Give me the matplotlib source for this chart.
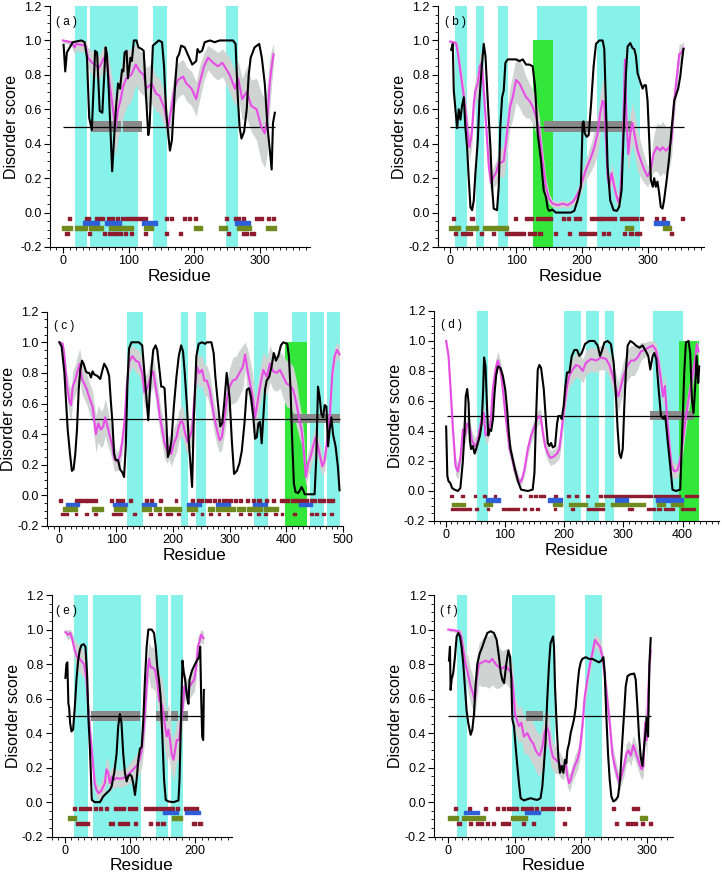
import matplotlib
matplotlib.use("Agg")
import matplotlib.pyplot as plt
import numpy as np
from matplotlib.ticker import MultipleLocator

plt.rcParams['font.family'] = ['Liberation Sans', 'DejaVu Sans']

CYAN = '#86f2ea'
GREEN = '#33e63a'
BAND = '#cfd3d2'
MORF = '#8a8a8a'
MAG = '#e84ce6'
RED = '#8e1b2e'
BLUE = '#2f5fd8'
OLIVE = '#6f8a1e'

# ---------------- panel (a) ----------------
a_cyan = [(18, 37), (41, 114), (137, 158), (249, 266)]
a_green = []
a_morf = [(42, 88), (91, 120)]
a_cut = (0, 323)
a_black = np.array([
    (1, .975), (3.5, .82), (6, .93), (15, .99), (28, 1.0), (33, .99), (36.6, .9), (40, .55), (44, .48),
    (49, .94), (52, .93), (56, .59), (60, .58), (65, .96), (67, .92), (70, .7), (75, .24), (79, .5),
    (81, .62), (84, .75), (87, .72), (90, .83), (92, .82), (94, .93), (97, .94), (99, .78), (103, .9),
    (105, .88), (108, 1.0), (112, 1.0), (115, .96), (120, .95), (123, .94), (127, .65), (130, .45),
    (132, .5), (137, .97), (146, 1.0), (151, .99), (154, .85), (157, .6), (160, .47), (163, .36),
    (166, .42), (171, .75), (174, .9), (177, .92), (180, .97), (185.5, .96), (190, .92), (197, .86),
    (203, .88), (205, .95), (208, .93), (212, .94), (216, .99), (224, 1.0), (231, .99), (239, 1.0),
    (259, 1.0), (263, .98), (266, .7), (269, .5), (272, .43), (276, .47), (280, .6), (283, .8),
    (286, .9), (292, .96), (299, .98), (303, .9), (307.5, .75), (311.6, .5), (315, .37), (318, .25),
    (320, .52), (322.8, .58)])
a_pondr = np.array([
    (0, 1.0, .01), (12.7, .99, .02), (17.8, .96, .04), (20, .98, .04), (34.6, .97, .04), (38, .9, .06),
    (44.6, .87, .07), (55, .84, .07), (62.5, .9, .07), (67, .88, .08), (71, .75, .12), (77, .58, .15),
    (80, .49, .16), (84, .6, .16), (87.5, .65, .17), (91.5, .73, .18), (96.6, .78, .17), (104, .8, .15),
    (111, .86, .12), (117, .82, .12), (123, .8, .12), (127, .72, .12), (135, .75, .12), (142, .69, .1),
    (147, .68, .1), (155, .6, .1), (160, .49, .08), (165, .6, .1), (170, .72, .1), (175, .77, .1),
    (183, .79, .1), (188, .75, .1), (196, .72, .1), (203, .66, .1), (208, .75, .1), (215, .85, .08),
    (221, .9, .07), (229, .87, .08), (236, .85, .08), (243, .87, .08), (254, .8, .1), (262, .72, .1),
    (267, .78, .1), (273, .66, .12), (280, .7, .15), (287, .62, .15), (295, .6, .18), (302, .5, .2),
    (307.5, .46, .2), (311.6, .55, .2), (315, .75, .15), (318, .85, .1), (321, .92, .06)])
a_red_top = [(8, 11), (35, 40), (50, 53), (55, 62), (68, 71), (74, 77), (81, 84), (89, 92), (95, 127),
             (157, 160), (164, 167), (184, 187), (191, 194), (201, 204), (247, 250), (261, 264),
             (266, 269), (274, 277), (293, 304), (311, 314), (319, 322)]
a_red_bot = [(4, 9), (39, 42), (62, 65), (69, 72), (75, 78), (80, 83), (86, 89), (94, 97), (103, 106),
             (125, 128), (157, 160), (178, 181), (250, 253), (273, 276), (278, 281), (286, 292)]
a_blue = [(30, 55), (64, 88), (120, 143), (262, 285)]
a_olive = [(-2, 14), (19, 36), (40, 61), (70, 107), (124, 137), (199, 212), (238, 250), (265, 286), (310, 325)]

# ---------------- panel (b) ----------------
b_cyan = [(8, 26), (39, 52), (72, 88), (132, 207), (223, 287)]
b_green = [(126, 156)]
b_morf = [(142, 275)]
b_cut = (0, 354)
b_black = np.array([
    (1.5, .946), (4, .98), (5.5, .71), (8, .6), (10.6, .49), (13, .6), (15.6, .54), (18, .62), (20.7, .67),
    (23, .5), (25.7, .38), (28, .21), (30.8, .03), (33.3, .014), (35.8, .07), (38.3, .23), (41.9, .42),
    (44.4, .65), (47.9, .85), (50.9, .98), (53.5, .91), (57, .65), (61, .38), (63.5, .15), (66, .023),
    (71, .014), (73.6, .15), (76, .5), (78.7, .67), (81.2, .71), (83.7, .87), (87.2, .89), (94.8, .89),
    (99.8, .89), (105, .88), (110, .89), (115, .86), (120, .86), (125, .85), (128.6, .73), (132.6, .46),
    (137.7, .3), (141.7, .13), (145.2, .09), (147.8, .023), (150, .01), (155, .017), (160, 0), (183, 0),
    (188, .01), (193, .07), (198, .15), (200.7, .52), (202, .53), (204, .46), (206.8, .44), (209.8, .45),
    (213.3, .62), (217.3, .85), (220.9, .98), (226, 1.0), (231, 1.0), (233.5, .95), (236, .62),
    (238.5, .27), (242.5, .07), (247.6, .014), (252.6, .01), (256, .033), (259.7, .13), (262.7, .46),
    (266.3, .81), (268.8, .965), (272.8, .985), (276.3, .955), (278.9, .95), (281.4, .91), (283.9, .81),
    (288, .76), (291.5, .72), (294, .74), (296.5, .74), (299, .65), (301.6, .42), (304, .19), (307, .15),
    (309, .2), (311.6, .15), (314, .18), (316.7, .11), (319, .033), (321.7, .023), (324, .07), (328, .19),
    (331.8, .32), (335.3, .48), (339.4, .65), (342, .68), (345.4, .72), (348.5, .79), (352, .91),
    (353.5, .95)])
b_pondr = np.array([
    (0, .994, .01), (9, .985, .02), (11.6, .93, .04), (16.6, .79, .06), (21.7, .65, .08), (25.7, .5, .08),
    (29.2, .38, .08), (32.8, .46, .08), (35.8, .635, .08), (38.3, .71, .08), (41.9, .75, .08),
    (44.9, .85, .07), (47.9, .87, .07), (50.9, .71, .08), (53.5, .56, .08), (56, .42, .08), (58.5, .27, .08),
    (62, .17, .06), (66, .21, .06), (69.6, .23, .07), (73.6, .29, .08), (77, .29, .08), (81.2, .3, .1),
    (83.7, .38, .12), (87.2, .5, .12), (90.8, .615, .12), (94.8, .67, .13), (99.8, .77, .13),
    (105, .75, .14), (110, .71, .14), (115, .67, .12), (120, .65, .1), (125, .615, .1), (130, .56, .1),
    (135, .48, .08), (140, .3, .07), (145, .15, .05), (150, .08, .03), (155, .052, .02), (163, .043, .02),
    (170.4, .052, .02), (178, .043, .02), (185.6, .062, .02), (190.6, .09, .03), (195.7, .13, .04),
    (200.7, .19, .05), (205.7, .25, .06), (213.3, .32, .08), (218.4, .38, .1), (223.4, .46, .12),
    (227.4, .58, .12), (231, .65, .12), (233.5, .635, .12), (236, .42, .1), (238.5, .21, .07),
    (241, .15, .06), (244.6, .23, .06), (247.6, .17, .06), (251, .11, .05), (254.7, .062, .04),
    (257.7, .09, .05), (261.2, .36, .1), (264.8, .89, .08), (266.8, .56, .12), (269.8, .34, .12),
    (272.8, .46, .12), (276.3, .52, .12), (279.9, .44, .12), (283.9, .36, .12), (289, .3, .1),
    (294, .25, .08), (299, .21, .06), (304, .25, .06), (308, .34, .1), (313, .38, .14), (318, .36, .15),
    (321.7, .38, .15), (326.8, .36, .14), (331.8, .38, .12), (335.3, .42, .1), (339.4, .65, .1),
    (343.4, .79, .08), (347, .92, .06), (350.5, .93, .05), (353.5, .955, .04)])
b_red_top = [(3, 7), (31, 35), (97, 100), (114, 124), (131, 139), (142, 153), (170, 173), (178, 181),
             (188, 198), (213, 218), (222, 228), (230, 236), (238, 250), (258, 268), (270, 283),
             (288, 292), (311, 314), (321, 325), (350, 354)]
b_red_bot = [(6, 9), (17, 21), (24, 27), (30, 33), (46, 49), (64, 67), (84, 88), (90, 94), (96, 100),
             (102, 106), (108, 112), (118, 130), (134, 139), (158, 161), (180, 183), (196, 204),
             (207, 220), (231, 234), (239, 242), (263, 266), (272, 276), (281, 284), (286, 289), (334, 337)]
b_blue = [(309, 332)]
b_olive = [(-1, 15), (24, 42), (50, 88), (265, 277), (323, 334)]

# ---------------- panel (c) ----------------
c_cyan = [(119, 148), (215, 227), (240, 258.5), (343, 367), (410, 436), (441.5, 466), (471, 495)]
c_green = [(398, 437)]
c_morf = [(406, 495)]
c_cut = (0, 495)
c_black = np.array([
    (0, 1.0), (4, .97), (8.8, .8), (11.7, .62), (14.6, .43), (18.7, .27), (22, .16), (25, .17), (28, .27),
    (31, .43), (34, .69), (36.8, .82), (39.8, .88), (42.7, .86), (46.8, .81), (49.7, .8), (52.6, .8),
    (55.6, .77), (58.5, .81), (61.4, .79), (67, .78), (72, .76), (76, .82), (79, .86), (83.6, .83),
    (87.7, .78), (90.6, .62), (93.6, .47), (96.5, .27), (99.4, .23), (103.5, .23), (107, .17), (111, .15),
    (114, .12), (117, .32), (120, .73), (122.8, .96), (127, 1.0), (140, 1.0), (146, .98), (149, .84),
    (153.8, .62), (156.7, .49), (159.6, .69), (162.6, .84), (165.5, .95), (169.6, .98), (172.5, .95),
    (177, .8), (179.5, .71), (182.5, .71), (185.4, .7), (188.3, .51), (191.2, .25), (194.7, .29),
    (197.7, .36), (201.8, .58), (206.4, .775), (210.5, .91), (214.6, .98), (218, .94), (221, .8),
    (225, .58), (228, .36), (231, .21), (234, .055), (236.8, .47), (241.5, .91), (245.6, .99),
    (251.5, 1.0), (257, .99), (260, 1.0), (268, 1.0), (272, .93), (275, .775), (279, .62), (283.6, .45),
    (287, .47), (290.6, .6), (295, .8), (300, .64), (304, .36), (308, .14), (312.9, .16), (317.5, .21),
    (321.6, .29), (326.3, .47), (330.4, .69), (334.5, .7), (338, .64), (342, .51), (345, .37), (348, .38),
    (350.9, .47), (353.8, .48), (356.7, .34), (359.6, .51), (362.6, .69), (365.5, .75), (370, .775),
    (374, .84), (378, .93), (381.9, .88), (386, .91), (390.6, .98), (394.7, 1.0), (401.8, .99),
    (404.7, .91), (407.6, .69), (410.5, .36), (413.5, .076), (416.4, .022), (421, .015), (424, .033),
    (427, .055), (430, .033), (432.7, .007), (450, .007), (453, .25), (456, .71), (459, .64), (462, .53),
    (465, .51), (467.8, .59), (470.8, .58), (473.7, .32), (476.6, .43), (479.5, .51), (482.5, .4),
    (487, .32), (491, .19), (494, .033)])
c_pondr = np.array([
    (0, 1.0, .01), (5.8, .99, .02), (8.8, .91, .05), (12.9, .73, .08), (17.5, .62, .1), (20.5, .59, .1),
    (23.4, .71, .1), (27.5, .75, .1), (32, .81, .1), (35.7, .86, .1), (39.8, .76, .1), (43.9, .73, .1),
    (48.5, .69, .1), (52.6, .64, .1), (58.5, .58, .1), (64.3, .4, .12), (68.4, .47, .12), (73, .43, .12),
    (77.2, .45, .12), (80.7, .51, .12), (84.8, .45, .12), (89.5, .38, .1), (93.6, .32, .1), (96.5, .24, .08),
    (102.3, .22, .06), (107, .26, .07), (111, .36, .08), (115, .49, .1), (118.7, .71, .1), (122.8, .87, .08),
    (128.6, .91, .07), (134.5, .88, .08), (140, .87, .08), (146, .8, .1), (150, .67, .1), (155, .7, .1),
    (160.8, .775, .1), (165.5, .81, .1), (169.6, .71, .1), (173.7, .62, .1), (177, .51, .1), (181.3, .43, .1),
    (185.4, .34, .1), (190, .29, .08), (193, .32, .08), (197, .27, .08), (201.8, .34, .1), (206.4, .38, .1),
    (210.5, .45, .1), (214.6, .49, .1), (218, .47, .1), (222, .4, .1), (226, .35, .08), (229.8, .38, .08),
    (234, .43, .1), (238, .64, .12), (242.7, .84, .1), (246.8, .8, .1), (251.5, .82, .1), (255.6, .75, .1),
    (260, .75, .1), (265, .69, .1), (269, .6, .1), (273, .51, .1), (277.8, .43, .1), (282.5, .36, .08),
    (286.5, .38, .08), (290.6, .49, .1), (295, .62, .12), (300, .71, .12), (305.8, .75, .15),
    (311.7, .76, .15), (317.5, .8, .15), (323.4, .84, .14), (327.5, .92, .1), (331.6, .82, .14),
    (336.3, .73, .15), (341, .64, .15), (345, .51, .12), (349, .6, .12), (353.8, .71, .12), (359.6, .82, .12),
    (365.5, .775, .12), (371.3, .86, .12), (377, .81, .12), (383, .8, .12), (389, .82, .12),
    (394.7, .775, .14), (400.6, .73, .15), (406.4, .72, .15), (412.3, .69, .15), (418, .6, .15),
    (422.8, .5, .12), (427, .43, .1), (431, .29, .1), (434.5, .12, .06), (438.6, .21, .08), (442.7, .25, .08),
    (447.4, .32, .08), (452, .38, .08), (456, .32, .08), (460, .25, .08), (463.7, .19, .06), (467.8, .23, .06),
    (472, .36, .08), (476.6, .51, .1), (481.3, .8, .08), (485.4, .91, .06), (489.5, .95, .05), (494, .92, .05)])
c_red_top = [(0, 3), (29, 34), (36, 41), (44, 48), (50, 54), (57, 60), (63, 66), (90, 93), (101, 113),
             (124, 127), (151, 155), (160, 165), (177, 180), (204, 207), (233, 237), (243, 247), (250, 253),
             (257, 260), (263, 266), (272, 276), (280, 283), (287, 290), (293, 296), (300, 304), (309, 313),
             (317, 321), (330, 334), (340, 344), (350, 354), (364, 367), (376, 379), (390, 404), (410, 428),
             (432, 438), (442, 452), (456, 468), (472, 484)]
c_red_bot = [(4, 9), (12, 15), (28, 31), (46, 49), (62, 65), (93, 101), (104, 109), (131, 134), (159, 162),
             (175, 178), (189, 197), (208, 211), (233, 236), (250, 253), (265, 268), (280, 283), (296, 299),
             (318, 321), (334, 337), (350, 353), (362, 365), (380, 383), (391, 394), (413, 416), (443, 447),
             (452, 455), (464, 467), (478, 481)]
c_blue = [(12, 35), (94, 119), (145, 170), (225, 250), (276, 301), (342, 366), (422, 445)]
c_olive = [(7, 31), (58, 77), (97, 117), (145, 161), (167, 180), (184, 214), (225, 243), (262, 273),
           (276, 310), (313, 328), (331, 357), (360, 386)]

# ---------------- panel (d) ----------------
d_cyan = [(53.4, 72), (200, 229), (237, 259.6), (269.7, 283.7), (350, 401)]
d_green = [(394.4, 428)]
d_morf = [(345, 420)]
d_cut = (3, 428)
d_black = np.array([
    (1, .43), (3, .1), (5, .065), (8, .053), (11, .02), (15, .009), (21, 0), (25, .02), (29, .19), (32, .39),
    (34, .63), (36.5, .68), (38.8, .59), (41, .34), (43, .28), (46, .3), (49, .25), (51.7, .28), (54.5, .32),
    (58, .37), (61, .45), (63.5, .68), (65, .89), (67.4, .83), (69.7, .59), (72, .37), (74, .41), (77, .4),
    (80, .48), (82.6, .65), (85.4, .77), (88.2, .83), (92.7, .82), (96.6, .77), (100.6, .68), (104, .54),
    (106.7, .39), (109.6, .28), (113.5, .21), (117.4, .14), (122, .065), (127.5, .009), (138.8, 0),
    (147, .009), (150, .12), (152.8, .5), (155.6, .81), (158.4, .84), (161.2, .82), (165.7, .68),
    (169.7, .45), (172.5, .32), (175.3, .3), (178, .32), (181, .29), (184.8, .3), (188.2, .45), (190.4, .5),
    (193.8, .5), (196, .48), (199.4, .57), (201.7, .68), (205, .79), (209, .79), (213, .9), (217.4, .94),
    (221.9, .94), (225.8, .9), (229.8, .92), (235.4, .98), (242.7, 1.0), (251, 1.0), (256.7, .97),
    (260.7, .9), (263.5, .93), (268, .99), (273.6, 1.0), (279, .98), (283.7, .855), (287.6, .63),
    (290.4, .41), (293.3, .25), (296, .22), (299, .28), (301.7, .57), (304.5, .81), (307.3, .97),
    (311.8, 1.0), (315.7, .99), (321.3, .97), (327, .955), (332.6, .97), (338.2, .93), (342.1, .9),
    (345.5, .81), (349.4, .9), (352.2, .92), (355.6, .88), (359.6, .68), (363.5, .5), (368, .48),
    (370.8, .5), (374.7, .34), (379.2, .165), (383, .009), (388.8, 0), (396, .009), (400, .45),
    (402.8, .79), (405.6, .99), (410, 1.0), (412.9, .92), (415.7, .61), (418.5, .52), (421.3, .7),
    (423.6, .9), (426.4, .72), (428, .83)])
d_pondr = np.array([
    (1, 1.0, .01), (5, .9, .03), (8.4, .68, .06), (12.4, .41, .08), (16.9, .165, .06), (20.8, .13, .05),
    (25.3, .23, .06), (29.2, .41, .06), (33, .37, .06), (36.5, .45, .06), (40.4, .43, .06), (44.4, .34, .06),
    (49, .3, .06), (53.4, .32, .06), (57.3, .41, .06), (61.2, .48, .06), (64.6, .52, .06), (67.4, .37, .06),
    (71.3, .39, .06), (75.8, .45, .06), (79.8, .68, .06), (84.3, .81, .06), (88.2, .87, .06), (92.7, .81, .06),
    (96.6, .68, .06), (100.6, .52, .06), (104, .41, .06), (107.9, .28, .06), (111.8, .23, .05),
    (116.3, .14, .05), (120.8, .1, .04), (124.7, .053, .03), (128.7, .076, .03), (133, .14, .04),
    (138.8, .28, .05), (144.4, .37, .05), (150, .43, .05), (154.5, .48, .05), (158.4, .5, .05),
    (161.2, .48, .05), (164, .39, .05), (168, .3, .05), (172.5, .25, .05), (177, .22, .05), (182.6, .23, .05),
    (188.2, .25, .05), (192, .28, .06), (196, .41, .08), (200.6, .57, .08), (205, .7, .08), (209, .77, .08),
    (214.6, .81, .08), (220.2, .84, .08), (225.8, .83, .08), (231.5, .8, .08), (237, .855, .08),
    (245.5, .88, .08), (254, .87, .08), (262.4, .89, .08), (270.8, .88, .08), (276.4, .84, .08),
    (282, .77, .1), (287.6, .68, .1), (291.6, .63, .1), (296, .7, .1), (300.6, .77, .1), (306, .83, .1),
    (313, .87, .1), (318.5, .87, .1), (324, .89, .08), (329.8, .93, .06), (335.4, .94, .05),
    (342, .955, .05), (349.4, .97, .04), (355, .94, .05), (359.6, .855, .06), (363.5, .74, .08),
    (366.9, .63, .08), (370.2, .7, .08), (373.6, .5, .08), (377.5, .32, .08), (381.5, .165, .06),
    (386, .13, .05), (391.6, .14, .05), (396, .21, .06), (400, .32, .08), (404, .45, .08), (408.4, .57, .08),
    (412.9, .68, .08), (416.8, .77, .06), (421.3, .88, .06), (424, .98, .04), (427, .93, .04)])
d_red_top = [(8, 11), (27, 30), (48, 51), (64, 67), (82, 85), (124, 127), (141, 145), (150, 153), (158, 162),
             (164, 167), (184, 187), (206, 209), (220, 223), (238, 241), (260, 264), (268, 283), (286, 290),
             (293, 302), (305, 312), (315, 322), (325, 330), (334, 340), (343, 348), (352, 358), (361, 370),
             (372, 378), (381, 385), (388, 394), (405, 426)]
d_red_bot = [(10, 14), (17, 21), (24, 28), (31, 35), (39, 42), (51, 54), (70, 73), (96, 100), (102, 106),
             (108, 113), (115, 123), (132, 135), (144, 147), (154, 157), (183, 186), (213, 216), (240, 243),
             (247, 250), (252, 260), (263, 266), (309, 312), (313, 316), (341, 344), (347, 352), (358, 362),
             (370, 374), (378, 384), (398, 403), (407, 412), (415, 420)]
d_blue = [(69, 92), (173, 196), (286, 308), (355, 401)]
d_olive = [(11, 32), (65, 79), (182, 197), (209, 223), (225, 239), (252, 268), (280, 337), (357, 371), (380, 400)]

# ---------------- panel (e) ----------------
e_cyan = [(13.8, 36.4), (42.6, 116.4), (140, 158), (163, 181)]
e_green = []
e_morf = [(41, 115), (140, 158), (163, 174), (179, 189)]
e_cut = (1.5, 213)
e_black = np.array([
    (1, .72), (2.6, .8), (4, .81), (5.6, .57), (6.7, .55), (8.2, .46), (10.3, .41), (12.8, .42), (15.4, .55),
    (18, .71), (20.5, .82), (23, .88), (25.6, .91), (29.2, .915), (31.8, .9), (34.4, .73), (36.4, .48),
    (38.5, .32), (40, .17), (41.5, .013), (46, 0), (54, 0), (59, .033), (64, .052), (69.2, .071),
    (71.8, .09), (75.9, .17), (79.5, .28), (82, .44), (84.6, .51), (87, .46), (89.7, .28), (92.3, .17),
    (94.9, .12), (97.4, .15), (100, .16), (102.6, .15), (105, .11), (107.7, .042), (110.3, .13),
    (112.8, .245), (115.4, .31), (118, .32), (120.5, .48), (123, .71), (125.6, .9), (128.2, 1.0),
    (133.3, 1.0), (136.9, .98), (139.5, .9), (142, .78), (145, .69), (147, .61), (149.7, .38), (152.3, .13),
    (154.9, .013), (159, .004), (166.7, 0), (174.4, .01), (176, .13), (178.5, .51), (180.5, .82),
    (182.6, .75), (184.6, .71), (187.2, .62), (189.7, .57), (191.3, .71), (194.9, .76), (198.5, .79),
    (202.6, .82), (206, .84), (207.7, .9), (209.2, .61), (210.8, .38), (212.3, .36), (213.3, .65)])
e_pondr = np.array([
    (1, .985, .02), (5, .97, .03), (8.7, .98, .03), (11.8, .94, .04), (15.4, .88, .06), (19, .84, .08),
    (23, .83, .08), (27.2, .81, .08), (29.7, .8, .08), (33.3, .71, .08), (35.9, .55, .08), (38.5, .42, .08),
    (41, .32, .07), (43.6, .21, .06), (46, .11, .05), (48.7, .071, .04), (51.8, .052, .04), (55.4, .062, .05),
    (59, .09, .06), (61.5, .11, .07), (64, .19, .07), (66.7, .17, .07), (69.2, .11, .06), (72.8, .15, .06),
    (75.9, .13, .06), (79.5, .14, .05), (84.6, .135, .05), (89.7, .14, .05), (94.9, .15, .05), (100, .17, .06),
    (105, .19, .06), (110.3, .21, .07), (114.4, .245, .08), (118, .3, .1), (121.5, .44, .12), (124.6, .61, .12),
    (127.2, .765, .1), (129.2, .83, .1), (131.8, .78, .12), (134.9, .78, .12), (138.5, .765, .12),
    (142, .69, .14), (145, .59, .15), (148.7, .57, .15), (151.3, .51, .15), (153.8, .44, .15), (156.4, .38, .15),
    (159, .42, .15), (161.5, .36, .14), (164, .28, .12), (166.7, .245, .12), (169.2, .3, .12), (171.8, .36, .12),
    (175.4, .36, .12), (177.9, .46, .12), (181, .55, .1), (183.6, .67, .08), (186.2, .65, .07), (188.7, .63, .07),
    (191.3, .67, .07), (194.9, .69, .07), (198.5, .71, .07), (201.5, .78, .07), (204, .9, .06), (206.7, .93, .05),
    (209.2, .97, .04), (212.8, .95, .04)])
e_red_top = [(13, 17), (22, 25), (29, 33), (35, 40), (45, 48), (53, 56), (62, 65), (76, 85), (88, 92), (98, 103),
             (106, 110), (123, 142), (146, 152), (155, 160), (162, 166), (171, 175), (183, 190), (193, 197), (200, 203)]
e_red_bot = [(18, 22), (24, 28), (31, 36), (69, 74), (83, 86), (89, 97), (107, 110), (130, 133), (140, 143),
             (148, 153), (196, 200), (205, 209)]
e_blue = [(150, 173), (185, 208)]
e_olive = [(5, 18), (164, 180)]

# ---------------- panel (f) ----------------
f_cyan = [(12.6, 27.6), (96.5, 160.3), (205.5, 232.2)]
f_green = []
f_morf = [(117, 143)]
f_cut = (0, 305)
f_black = np.array([
    (1, .82), (2.5, .9), (3.5, .65), (5, .71), (7.5, .75), (10, .84), (12.6, .96), (15, .98), (17.6, .96),
    (20, .9), (22.6, .8), (25, .67), (27.6, .53), (30, .46), (33.7, .39), (36.2, .42), (38.7, .51), (41, .67),
    (43.7, .8), (47.2, .86), (51.3, .9), (54.8, .94), (58.8, .98), (63.8, .99), (68.8, .98), (72.9, .94),
    (76.4, .84), (79, .75), (81.4, .71), (84, .69), (87.4, .8), (90.5, .88), (93, .84), (95, .71), (96.5, .48),
    (99, .44), (101.5, .32), (104, .21), (106.5, .11), (109, .023), (114, .01), (119, .017), (124, .023),
    (129, .017), (134, .013), (139, .023), (141.7, .09), (144, .21), (146.7, .36), (149, .59), (151.8, .8),
    (154, .92), (157.8, .96), (159.3, .9), (160.8, .67), (163.3, .44), (165.8, .26), (168.3, .17), (170.9, .21),
    (173.4, .17), (175.9, .245), (177.9, .225), (179.4, .3), (182, .34), (184.4, .4), (187, .44), (189.4, .48),
    (192, .55), (194.5, .67), (197, .765), (199.5, .81), (202, .83), (207, .84), (212, .83), (217, .83),
    (222, .82), (227, .81), (230.7, .82), (233.7, .84), (235.7, .75), (238, .51), (240.7, .28), (243.2, .13),
    (245.7, .033), (248.7, .004), (252.3, .013), (255.8, .033), (258.8, .13), (262.3, .36), (264.8, .51),
    (267.3, .67), (270, .73), (273.9, .74), (280, .745), (282.4, .71), (285, .55), (287.4, .38), (290, .26),
    (292.5, .21), (295, .32), (297.5, .42), (299, .49), (301, .38), (303, .8), (305, .95)])
f_pondr = np.array([
    (0, 1.0, .01), (8.5, .996, .01), (16, .99, .02), (19.6, .96, .04), (22.6, .88, .06), (26, .8, .08),
    (29.6, .745, .1), (33.7, .67, .1), (37.2, .63, .1), (40, .59, .1), (42.7, .71, .12), (46.2, .8, .12),
    (51.3, .81, .14), (56.3, .82, .15), (61.3, .81, .15), (66.3, .83, .15), (71.4, .8, .14), (76.4, .78, .12),
    (81.4, .775, .1), (86.4, .79, .1), (91.5, .765, .1), (95, .745, .1), (98, .65, .1), (100.5, .51, .1),
    (103, .48, .1), (106.5, .44, .1), (110, .46, .1), (114, .38, .1), (119, .4, .12), (124, .36, .12),
    (128, .34, .12), (131.7, .3, .12), (135, .28, .12), (138, .27, .12), (141.7, .32, .12), (145, .4, .12),
    (148, .44, .1), (151.8, .4, .1), (154, .32, .1), (157.8, .26, .08), (161.8, .245, .08), (165.3, .235, .07),
    (169.3, .21, .07), (173.4, .19, .06), (177, .225, .06), (179.4, .15, .06), (182, .11, .05), (184.4, .13, .05),
    (187, .17, .05), (190.5, .21, .06), (194.5, .245, .06), (198, .3, .06), (202, .44, .06), (205.5, .61, .06),
    (209.5, .71, .06), (213.6, .8, .05), (217, .86, .05), (221, .94, .04), (224.6, .92, .04), (228.6, .9, .05),
    (232.2, .84, .05), (235.7, .73, .06), (239.7, .59, .06), (243.7, .44, .06), (247.2, .28, .06),
    (250.8, .21, .06), (254.8, .15, .05), (257.8, .11, .05), (260.8, .15, .05), (264.8, .21, .06),
    (268.3, .28, .06), (271.4, .3, .06), (274.9, .27, .06), (278.9, .33, .06), (281.4, .3, .06), (285, .26, .06),
    (289, .21, .06), (291.5, .19, .06), (294, .21, .06), (296.5, .46, .1), (299, .36, .1), (301, .61, .1),
    (303, .78, .08), (305, .88, .06)])
f_red_top = [(9, 12), (31, 34), (54, 57), (72, 75), (81, 84), (89, 95), (97, 104), (110, 113), (117, 120),
             (123, 127), (131, 135), (140, 143), (146, 160), (164, 167), (170, 174), (179, 182), (248, 251), (278, 287)]
f_red_bot = [(14, 18), (32, 35), (42, 45), (49, 52), (57, 60), (66, 69), (80, 92), (112, 115), (127, 130),
             (174, 177), (252, 255), (268, 271), (274, 277), (280, 283), (291, 294), (303, 306)]
f_blue = [(24, 47), (115, 138)]
f_olive = [(0, 15), (20, 56), (95, 119), (289, 299)]


def draw(ax, tag, xlim, cyan, green, morf, cut, black, pondr, red_top, red_bot, blue, olive):
    for s, e in cyan:
        ax.axvspan(s, e, color=CYAN, lw=0, zorder=0)
    for s, e in green:
        ax.fill_between([s, e], -0.2, 1.0, color=GREEN, lw=0, zorder=0.5)
    lo = pondr[:, 1] - pondr[:, 2]
    hi = np.minimum(pondr[:, 1] + pondr[:, 2], 1.0)
    ax.fill_between(pondr[:, 0], lo, hi, color=BAND, lw=0, zorder=1)
    for s, e in morf:
        ax.fill_between([s, e], 0.47, 0.53, color=MORF, lw=0, zorder=1.5)
    ax.hlines(0.5, cut[0], cut[1], color='black', lw=0.9, zorder=2)
    ax.plot(pondr[:, 0], pondr[:, 1], color=MAG, lw=1.5, zorder=3)
    ax.plot(black[:, 0], black[:, 1], color='black', lw=1.5, zorder=4)

    # annotation rows under the curves
    ax.broken_barh([(s - 0.8, e - s + 1.6) for s, e in red_top], (-0.043, 0.016), color=RED, zorder=5)
    ax.broken_barh([(s, e - s) for s, e in blue], (-0.071, 0.022), color=BLUE, zorder=5)
    ax.broken_barh([(s, e - s) for s, e in olive], (-0.102, 0.024), color=OLIVE, zorder=5)
    ax.broken_barh([(s - 0.8, e - s + 1.6) for s, e in red_bot], (-0.13, 0.016), color=RED, zorder=5)

    ax.set_xlim(*xlim)
    ax.set_ylim(-0.2, 1.2)
    ax.spines['top'].set_visible(False)
    ax.spines['right'].set_visible(False)
    ax.xaxis.set_major_locator(MultipleLocator(100))
    ax.xaxis.set_minor_locator(MultipleLocator(10))
    ax.yaxis.set_major_locator(MultipleLocator(0.2))
    ax.yaxis.set_minor_locator(MultipleLocator(0.05))
    ax.yaxis.set_major_formatter(plt.FuncFormatter(lambda v, p: '%.1f' % v))
    ax.tick_params(which='major', direction='out', length=4, labelsize=9, pad=2)
    ax.tick_params(which='minor', direction='out', length=2)
    ax.set_xlabel('Residue', fontsize=12.5, labelpad=1)
    ax.set_ylabel('Disorder score', fontsize=11.5, labelpad=1)
    ax.text(0.025, 0.935, '( %s )' % tag, transform=ax.transAxes, fontsize=8.5, va='center', ha='left')


fig = plt.figure(figsize=(7.22, 8.74), dpi=100)
ax_a = fig.add_axes([0.069, 0.7174, 0.360, 0.2757])
ax_b = fig.add_axes([0.607, 0.7174, 0.3676, 0.2757])
ax_c = fig.add_axes([0.0650, 0.3982, 0.410, 0.2452])
ax_d = fig.add_axes([0.6007, 0.4039, 0.3956, 0.2403])
ax_e = fig.add_axes([0.0716, 0.0427, 0.2493, 0.2765])
ax_f = fig.add_axes([0.6016, 0.0427, 0.330, 0.2765])

draw(ax_a, 'a', (-20, 376), a_cyan, a_green, a_morf, a_cut, a_black, a_pondr, a_red_top, a_red_bot, a_blue, a_olive)
draw(ax_b, 'b', (-18, 384), b_cyan, b_green, b_morf, b_cut, b_black, b_pondr, b_red_top, b_red_bot, b_blue, b_olive)
draw(ax_c, 'c', (-22, 500), c_cyan, c_green, c_morf, c_cut, c_black, c_pondr, c_red_top, c_red_bot, c_blue, c_olive)
draw(ax_d, 'd', (-20, 462), d_cyan, d_green, d_morf, d_cut, d_black, d_pondr, d_red_top, d_red_bot, d_blue, d_olive)
draw(ax_e, 'e', (-20, 256), e_cyan, e_green, e_morf, e_cut, e_black, e_pondr, e_red_top, e_red_bot, e_blue, e_olive)
draw(ax_f, 'f', (-21, 338), f_cyan, f_green, f_morf, f_cut, f_black, f_pondr, f_red_top, f_red_bot, f_blue, f_olive)

fig.savefig('out.png', dpi=100)
